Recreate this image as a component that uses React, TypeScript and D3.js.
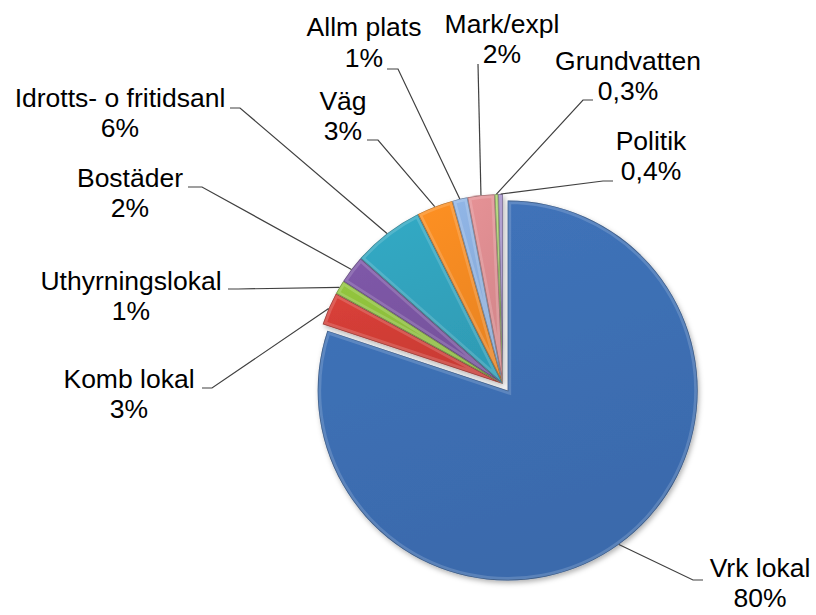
import React from "react";
import * as d3 from "d3";

const categories = [
  "Vrk lokal",
  "Komb lokal",
  "Uthyrningslokal",
  "Bostäder",
  "Idrotts- o fritidsanl",
  "Väg",
  "Allm plats",
  "Mark/expl",
  "Grundvatten",
  "Politik",
];
const values = [80.1, 2.8, 1.2, 2.4, 6.1, 3.1, 1.3, 2.3, 0.3, 0.4];
const percentLabels = ["80%", "3%", "1%", "2%", "6%", "3%", "1%", "2%", "0,3%", "0,4%"];
const colors = [
  "#3D6FB3",
  "#D13D36",
  "#8DBE3C",
  "#7A55A2",
  "#31A3BD",
  "#F38A22",
  "#8BAEDD",
  "#DC8C90",
  "#A8D06A",
  "#9F8CC4",
];

// label layout: text centre x, first baseline y, line gap, leader start (sx, sy), elbow (ex, ey)
const labelLayout = [
  { x: 760, y: 577, lh: 30, sx: 703, sy: 580, ex: 693, ey: 580 },
  { x: 129, y: 388, lh: 30, sx: 202, sy: 388, ex: 212, ey: 388 },
  { x: 131, y: 290, lh: 30, sx: 228, sy: 289, ex: 238, ey: 289 },
  { x: 130, y: 187, lh: 30, sx: 188, sy: 187, ex: 202, ey: 187 },
  { x: 120, y: 107, lh: 30, sx: 230, sy: 108, ex: 240, ey: 108 },
  { x: 343, y: 110, lh: 30, sx: 367, sy: 140, ex: 378, ey: 140 },
  { x: 364, y: 36, lh: 31, sx: 387, sy: 69, ex: 398, ey: 69 },
  { x: 502, y: 33, lh: 30, sx: 478, sy: 64, ex: 478, ey: 64 },
  { x: 628, y: 70, lh: 30, sx: 593, sy: 100, ex: 583, ey: 100 },
  { x: 651, y: 150, lh: 30, sx: 613, sy: 181, ex: 603, ey: 181 },
];

const CX = 503;
const CY = 384;
const R = 190;
const EXPLODE = 8;

export default function App() {
  const pie = d3
    .pie<number>()
    .sort(null)
    .value((d) => d);
  const arcs = pie(values);
  const arc = d3.arc<d3.PieArcDatum<number>>().innerRadius(0).outerRadius(R);

  const offset = (i: number, a: d3.PieArcDatum<number>) => {
    if (i !== 0) return [0, 0];
    const m = (a.startAngle + a.endAngle) / 2;
    return [EXPLODE * Math.sin(m), -EXPLODE * Math.cos(m)];
  };

  return (
    <svg
      width={816}
      height={615}
      style={{ position: "absolute", left: 0, top: 0, background: "#fff" }}
      fontFamily="'Liberation Sans', Arial, sans-serif"
    >
      <defs>
        <filter id="shadow" x="-20%" y="-20%" width="140%" height="140%">
          <feDropShadow dx="1.5" dy="2.5" stdDeviation="2.5" floodColor="#000" floodOpacity="0.3" />
        </filter>
        {arcs.map((a, i) => {
          const [ox, oy] = offset(i, a);
          return (
            <clipPath id={`clip${i}`} key={i}>
              <path d={arc(a) || ""} transform={`translate(${CX + ox},${CY + oy})`} />
            </clipPath>
          );
        })}
        {colors.map((c, i) => {
          const base = d3.color(c)!;
          return (
            <linearGradient id={`grad${i}`} key={i} x1="0" y1="0" x2="0.3" y2="1">
              <stop offset="0%" stopColor={base.brighter(0.12).formatHex()} />
              <stop offset="100%" stopColor={base.darker(0.12).formatHex()} />
            </linearGradient>
          );
        })}
      </defs>

      <g filter="url(#shadow)">
        {arcs.map((a, i) => {
          const [ox, oy] = offset(i, a);
          return (
            <path
              key={i}
              d={arc(a) || ""}
              transform={`translate(${CX + ox},${CY + oy})`}
              fill={`url(#grad${i})`}
            />
          );
        })}
      </g>
      {/* bevel rims */}
      {arcs.map((a, i) => {
        const [ox, oy] = offset(i, a);
        return (
          <g key={i} clipPath={`url(#clip${i})`}>
            <path
              d={arc(a) || ""}
              transform={`translate(${CX + ox},${CY + oy})`}
              fill="none"
              stroke="#fff"
              strokeOpacity={0.16}
              strokeWidth={7}
            />
            <path
              d={arc(a) || ""}
              transform={`translate(${CX + ox},${CY + oy})`}
              fill="none"
              stroke="#000"
              strokeOpacity={0.3}
              strokeWidth={1.5}
            />
          </g>
        );
      })}

      {/* leader lines */}
      {arcs.map((a, i) => {
        const [ox, oy] = offset(i, a);
        const m = (a.startAngle + a.endAngle) / 2;
        const px = CX + ox + R * Math.sin(m);
        const py = CY + oy - R * Math.cos(m);
        const L = labelLayout[i];
        return (
          <polyline
            key={i}
            points={`${L.sx},${L.sy} ${L.ex},${L.ey} ${px},${py}`}
            fill="none"
            stroke="#404040"
            strokeWidth={1.2}
          />
        );
      })}

      {/* labels */}
      {categories.map((c, i) => {
        const L = labelLayout[i];
        return (
          <text key={i} x={L.x} y={L.y} textAnchor="middle" fontSize={26.5} fill="#000">
            <tspan x={L.x} y={L.y}>
              {c}
            </tspan>
            <tspan x={L.x} y={L.y + L.lh}>
              {percentLabels[i]}
            </tspan>
          </text>
        );
      })}
    </svg>
  );
}
